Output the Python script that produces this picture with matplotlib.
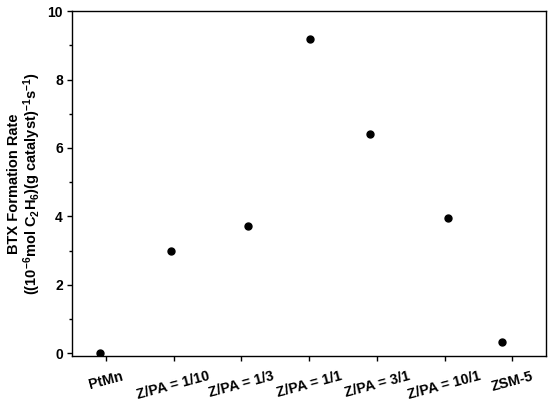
import matplotlib
matplotlib.use('Agg')
import matplotlib.pyplot as plt
import matplotlib.transforms as mtransforms
from matplotlib.ticker import MultipleLocator

plt.rcParams['font.family'] = ['Liberation Sans', 'DejaVu Sans']
plt.rcParams['font.weight'] = 'bold'
plt.rcParams['mathtext.fontset'] = 'custom'
plt.rcParams['mathtext.rm'] = 'Liberation Sans:bold'
plt.rcParams['mathtext.bf'] = 'Liberation Sans:bold'
plt.rcParams['mathtext.default'] = 'bf'

# catalysts and BTX formation rates
catalysts = ['PtMn', 'Z/PA = 1/10', 'Z/PA = 1/3', 'Z/PA = 1/1',
             'Z/PA = 3/1', 'Z/PA = 10/1', 'ZSM-5']
tick_pos = [1, 2, 3, 4, 5, 6, 7]
x_pos = [0.91, 1.96, 3.10, 4.02, 4.90, 6.05, 6.85]
rate = [0.0, 3.0, 3.71, 9.19, 6.41, 3.96, 0.34]

fig = plt.figure(figsize=(5.5, 4.12), dpi=100)
ax = fig.add_axes([0.131, 0.136, 0.862, 0.837])

ax.plot(x_pos, rate, 'o', color='black', markersize=5, linestyle='none')

ax.set_xlim(0.5, 7.5)
ax.set_ylim(-0.08, 10)
ax.yaxis.set_major_locator(MultipleLocator(2))
ax.yaxis.set_minor_locator(MultipleLocator(1))
ax.set_xticks(tick_pos)
ax.set_xticklabels(catalysts, rotation=15, ha='center', fontsize=10.3, fontweight='bold')
for lab in ax.get_yticklabels():
    lab.set_fontsize(10)
    lab.set_fontweight('bold')

# nudge the rotated labels a bit to the left, like the original
off = mtransforms.ScaledTranslation(-8/100, 0, fig.dpi_scale_trans)
for lab in ax.get_xticklabels():
    lab.set_transform(lab.get_transform() + off)

ax.tick_params(axis='both', which='major', direction='out', length=3.6, width=1)
ax.tick_params(axis='y', which='minor', direction='out', length=2, width=1)
ax.tick_params(axis='x', which='major', pad=6)
ax.tick_params(axis='y', which='major', pad=3)
for s in ax.spines.values():
    s.set_linewidth(1.0)

ax.set_ylabel('BTX Formation Rate\n'
              r'((10$^{-6}$mol C$_2$H$_6$)(g catalyst)$^{-1}$s$^{-1}$)',
              fontsize=10.5, fontweight='bold', linespacing=1.0)
ax.yaxis.set_label_coords(-0.062, 0.5)

fig.savefig('out.png', dpi=100)
